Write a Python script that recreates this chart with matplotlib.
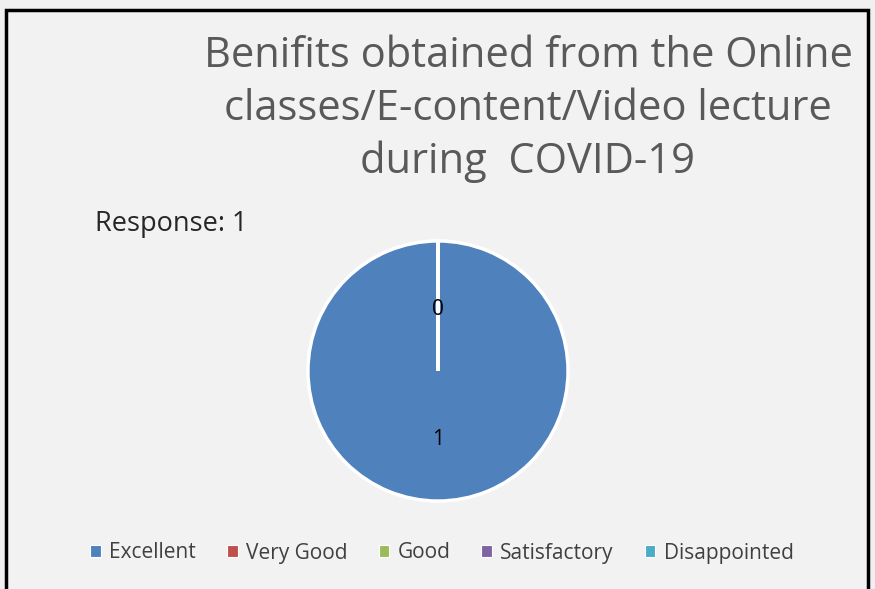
import matplotlib.pyplot as plt
from matplotlib.patches import Rectangle
import numpy as np

categories = ['Excellent', 'Very Good', 'Good', 'Satisfactory', 'Disappointed']
values = [1, 0, 0, 0, 0]
colors = ['#4f81bd', '#c0504d', '#9bbb59', '#8064a2', '#4bacc6']
title = 'Benifits obtained from the Online\nclasses/E-content/Video lecture\nduring  COVID-19'

plt.rcParams['font.family'] = ['Open Sans', 'DejaVu Sans']

fig = plt.figure(figsize=(8.75, 5.89), dpi=100)
fig.patch.set_facecolor('#f0f0f0')

# chart frame
fig.patches.append(Rectangle((6 / 875, -0.02), 862 / 875, 1 - 10 / 589 + 0.02,
                             transform=fig.transFigure, facecolor='#f2f2f2',
                             edgecolor='black', linewidth=2.5, zorder=-5))

fig.text(528 / 875, 1 - 109 / 589, title, ha='center', va='center',
         fontsize=30, color='#595959', linespacing=1.33)
fig.text(95 / 875, 1 - 224 / 589, 'Response: 1', ha='left', va='center',
         fontsize=19.5, color='#262626')

ax = fig.add_axes([306 / 875, 1 - 503 / 589, 264 / 875, 264 / 589])
ax.patch.set_visible(False)
wedges, _ = ax.pie(values, colors=colors, startangle=90, counterclock=False,
                   radius=1, wedgeprops=dict(edgecolor='white', linewidth=2.5))
ax.set_aspect('equal')
ax.set_xlim(-1.015, 1.015)
ax.set_ylim(-1.015, 1.015)

done = set()
for w, v in zip(wedges, values):
    ang = np.deg2rad((w.theta1 + w.theta2) / 2)
    r = 0.53 if v > 0 else 0.47
    key = (round(ang, 3), v)
    if key in done:
        continue
    done.add(key)
    ax.text(r * np.cos(ang), r * np.sin(ang), str(v), ha='center',
            va='center', fontsize=15, color='black')

handles = [Rectangle((0, 0), 1, 1, facecolor=c, edgecolor='white', linewidth=0.8)
           for c in colors]
fig.legend(handles, categories, loc='center', bbox_to_anchor=(442 / 875, 1 - 553 / 589),
           ncol=5, frameon=False, fontsize=15, handlelength=0.5, handleheight=0.5,
           handletextpad=0.4, columnspacing=1.5, labelcolor='#404040')

fig.savefig('out.png', dpi=100, facecolor=fig.get_facecolor())
